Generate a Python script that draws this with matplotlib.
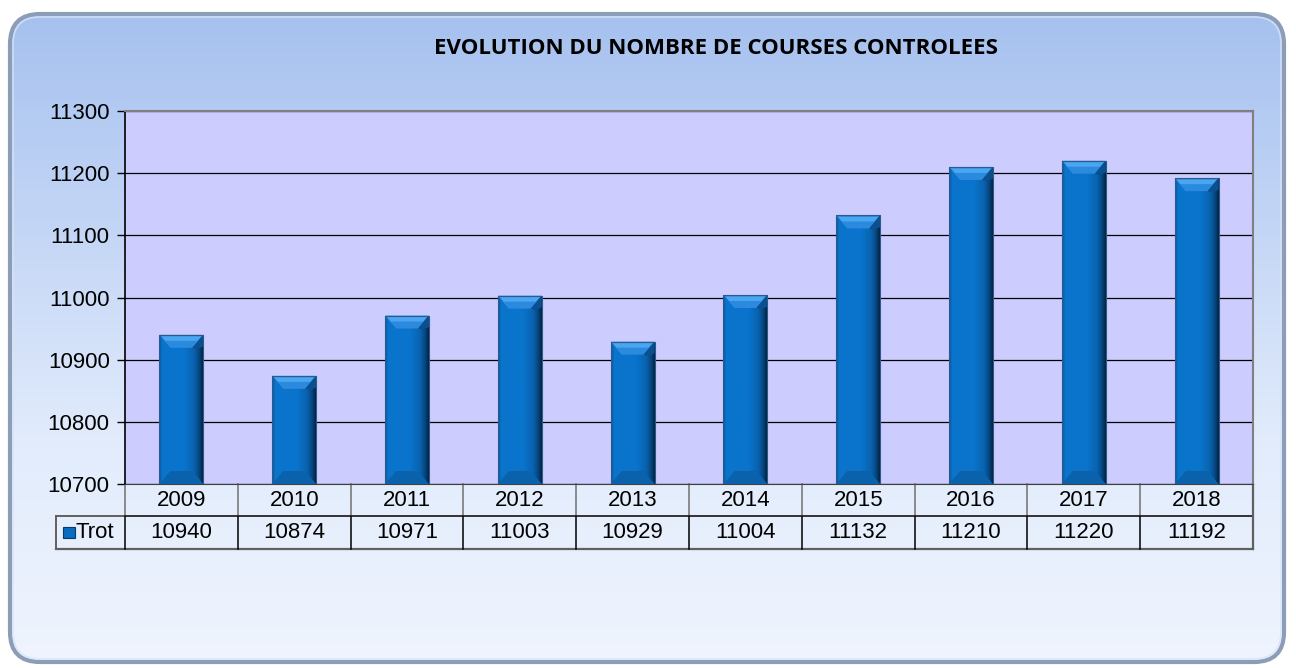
import matplotlib
matplotlib.use('Agg')

import numpy as np
import matplotlib.pyplot as plt
from matplotlib.patches import FancyBboxPatch, Polygon, Rectangle
from matplotlib.colors import LinearSegmentedColormap

# data
years = ['2009', '2010', '2011', '2012', '2013', '2014', '2015', '2016', '2017', '2018']
trot = [10940, 10874, 10971, 11003, 10929, 11004, 11132, 11210, 11220, 11192]
series_name = 'Trot'
title = 'EVOLUTION DU NOMBRE DE COURSES CONTROLEES'
y_min, y_max, y_step = 10700, 11300, 100

W, H = 1296, 668
fig = plt.figure(figsize=(W / 100, H / 100), dpi=100)
fig.patch.set_facecolor('white')

# rounded gradient background
bg = fig.add_axes([0, 0, 1, 1], zorder=-5)
bg.set_xlim(0, W)
bg.set_ylim(H, 0)
bg.axis('off')
grad = np.linspace(0, 1, 256).reshape(-1, 1)
bg_cmap = LinearSegmentedColormap.from_list('bg', ['#a6c1ef', '#c4d6f6', '#e2ecfc', '#eff4fe'])
box = FancyBboxPatch((10, 14), W - 22, H - 20, boxstyle='round,pad=0,rounding_size=30',
                     facecolor='none', edgecolor='#8c9db8', linewidth=3)
bg.add_patch(box)
img = bg.imshow(grad, cmap=bg_cmap, extent=[10, W - 12, H - 6, 14], aspect='auto')
img.set_clip_path(box)
bg.add_patch(FancyBboxPatch((13, 17), W - 28, H - 26, boxstyle='round,pad=0,rounding_size=27',
                            facecolor='none', edgecolor='#d8e4f6', linewidth=1.2, alpha=0.8))

fig.text(716 / W, 1 - 48 / H, title, ha='center', va='center',
         fontsize=16, fontweight='bold', family='Open Sans', color='black')

# main plot area
left, right, top, bottom = 125, 1253, 111, 484
ax = fig.add_axes([left / W, 1 - bottom / H, (right - left) / W, (bottom - top) / H])
ax.set_facecolor('#ccccfe')
x = np.arange(len(years))
ax.set_xlim(-0.5, len(years) - 0.5)
ax.set_ylim(y_min, y_max)
ax.set_yticks(np.arange(y_min, y_max + 1, y_step))
ax.yaxis.grid(True, color='black', linewidth=0.9)
ax.set_axisbelow(True)
ax.set_xticks([])
ax.tick_params(axis='y', length=6, width=1, color='black', labelsize=16, pad=5)
for lab in ax.get_yticklabels():
    lab.set_family('Liberation Sans')
ax.spines['left'].set_color('black')
ax.spines['left'].set_linewidth(1.2)
for s in ['top', 'right']:
    ax.spines[s].set_color('#808080')
    ax.spines[s].set_linewidth(1.5)
ax.spines['bottom'].set_color('#404040')

bar_cmap = LinearSegmentedColormap.from_list(
    'bar', [(0, '#0b5598'), (0.07, '#0a74cc'), (0.55, '#0a75ce'),
            (0.8, '#0963b0'), (0.92, '#06457e'), (1, '#03223f')])
hgrad = np.linspace(0, 1, 128).reshape(1, -1)

bars = ax.bar(x, [v - y_min for v in trot], bottom=y_min, width=0.39,
              color='#0a74cc', edgecolor='#3a5f88', linewidth=0.6, zorder=3)

px_per_x = (right - left) / len(years)
px_per_y = (bottom - top) / (y_max - y_min)
bev_y = 13 / px_per_y
bev_x = 11 / px_per_x
for b in bars:
    x0, w = b.get_x(), b.get_width()
    y0, h = b.get_y(), b.get_height()
    x1, y1 = x0 + w, y0 + h
    im = ax.imshow(hgrad, cmap=bar_cmap, extent=[x0, x1, y0, y1], aspect='auto', zorder=3.1)
    im.set_clip_path(b)
    ax.add_patch(Polygon([(x0, y1), (x1, y1), (x1 - bev_x, y1 - bev_y), (x0 + bev_x, y1 - bev_y)],
                         closed=True, facecolor='#2c8ade', edgecolor='none', zorder=3.2))
    ax.add_patch(Polygon([(x0 + 2 / px_per_x, y1 - 1.5 / px_per_y), (x1 - 2 / px_per_x, y1 - 1.5 / px_per_y),
                          (x1 - 6 / px_per_x, y1 - 6 / px_per_y), (x0 + 6 / px_per_x, y1 - 6 / px_per_y)],
                         closed=True, facecolor='#4aa6f0', edgecolor='none', zorder=3.22))
    ax.add_patch(Polygon([(x1, y1), (x1 - bev_x, y1 - bev_y), (x1 - bev_x * 0.6, y1 - bev_y * 1.1), (x1, y1 - bev_y * 0.9)],
                         closed=True, facecolor='#0a4f8e', edgecolor='none', zorder=3.25))
    ax.add_patch(Polygon([(x0, y0), (x1, y0), (x1 - bev_x, y0 + bev_y), (x0 + bev_x, y0 + bev_y)],
                         closed=True, facecolor='#0b62ac', edgecolor='none', zorder=3.2))
    ax.add_patch(Rectangle((x0, y0), w, h, facecolor='none', edgecolor='#2d5a8a',
                           linewidth=0.8, zorder=3.3))

# data table under the plot
trans = ax.get_xaxis_transform()
r1 = -(516 - bottom) / (bottom - top)
r2 = -(549 - bottom) / (bottom - top)
xl = -0.5 - (left - 56) / px_per_x
line_kw = dict(transform=trans, clip_on=False, color='black', linewidth=1.1)
ax.plot([-0.5, len(years) - 0.5], [r1, r1], **line_kw)
ax.plot([xl, len(years) - 0.5], [r2, r2], color='#606060', linewidth=1.6,
        transform=trans, clip_on=False)
ax.plot([xl, -0.5], [r1, r1], color='#606060', linewidth=1.4, transform=trans, clip_on=False)
ax.plot([xl, xl], [r1, r2], color='#606060', linewidth=1.4, transform=trans, clip_on=False)
ax.plot([len(years) - 0.5] * 2, [0, r2], color='#606060', linewidth=1.6,
        transform=trans, clip_on=False)
for i in range(len(years)):
    ax.plot([i - 0.5] * 2, [0, r1], color='#707070', linewidth=1.1, transform=trans, clip_on=False)
    ax.plot([i - 0.5] * 2, [r1, r2], **line_kw)
    ax.text(i, r1 / 2, years[i], transform=trans, ha='center', va='center',
            fontsize=16, family='Liberation Sans')
    ax.text(i, (r1 + r2) / 2, str(trot[i]), transform=trans, ha='center', va='center',
            fontsize=16, family='Liberation Sans')

# legend key and label
key_w = 12 / px_per_x
key_h = 11 / (bottom - top)
kx = xl + 7 / px_per_x
ky = (r1 + r2) / 2 - key_h / 2
ax.add_patch(Rectangle((kx, ky), key_w, key_h, transform=trans, clip_on=False,
                       facecolor='#0a6cc0', edgecolor='#063a6a', linewidth=0.8))
ax.text(kx + key_w + 1 / px_per_x, (r1 + r2) / 2, series_name, transform=trans,
        ha='left', va='center', fontsize=16, family='Liberation Sans')

plt.savefig('out.png', dpi=100)
plt.close()
